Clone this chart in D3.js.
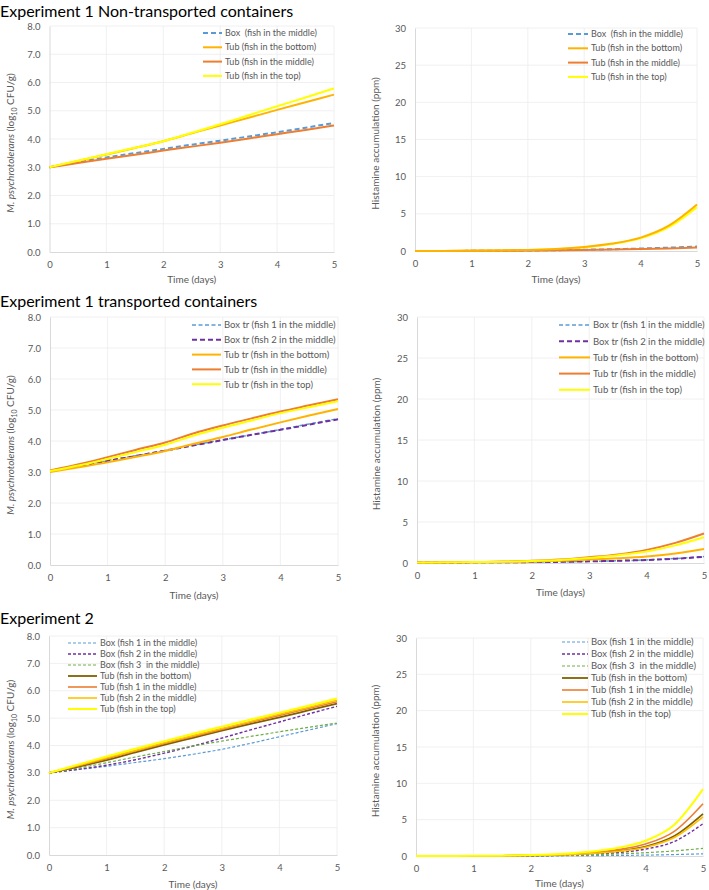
<!DOCTYPE html>
<html>
<head>
<meta charset="utf-8">
<script src="https://cdn.jsdelivr.net/npm/d3@7"></script>
<style>
  body { margin: 0; background: #fff; }
  svg text { font-family: Lato, "Liberation Sans", sans-serif; }
  .tick text { fill: #595959; font-size: 9.5px; }
  .axisTitle { fill: #595959; font-size: 10px; }
  .legendText { fill: #595959; }
</style>
</head>
<body>
<div class="chart"></div>
<script>
// time points (days)
var days = [0, 0.5, 1, 1.5, 2, 2.5, 3, 3.5, 4, 4.5, 5];

// Experiment 1 non-transported: growth (log10 CFU/g)
var e1Box      = [3.0, 3.18, 3.35, 3.50, 3.65, 3.80, 3.94, 4.09, 4.24, 4.40, 4.57];
var e1TubBot   = [3.0, 3.22, 3.45, 3.68, 3.92, 4.20, 4.48, 4.75, 5.03, 5.30, 5.57];
var e1TubMid   = [3.0, 3.15, 3.30, 3.44, 3.59, 3.73, 3.87, 4.02, 4.17, 4.32, 4.48];
var e1TubTop   = [3.0, 3.23, 3.46, 3.69, 3.92, 4.22, 4.52, 4.84, 5.16, 5.47, 5.79];
// Experiment 1 non-transported: histamine (ppm)
var e1BoxH     = [0, 0.01, 0.02, 0.04, 0.07, 0.11, 0.17, 0.24, 0.33, 0.45, 0.60];
var e1TubBotH  = [0, 0.01, 0.03, 0.07, 0.14, 0.28, 0.55, 1.00, 1.80, 3.40, 6.25];
var e1TubMidH  = [0, 0.01, 0.02, 0.03, 0.06, 0.09, 0.13, 0.19, 0.26, 0.35, 0.46];
var e1TubTopH  = [0, 0.01, 0.03, 0.07, 0.14, 0.27, 0.52, 0.95, 1.70, 3.20, 5.90];

// Experiment 1 transported: growth
var trBox1     = [3.02, 3.20, 3.37, 3.53, 3.69, 3.87, 4.04, 4.20, 4.37, 4.55, 4.72];
var trBox2     = [3.02, 3.19, 3.36, 3.52, 3.69, 3.86, 4.03, 4.20, 4.36, 4.53, 4.70];
var trTubBot   = [3.00, 3.15, 3.31, 3.49, 3.68, 3.91, 4.13, 4.37, 4.60, 4.82, 5.03];
var trTubMid   = [3.05, 3.25, 3.48, 3.72, 3.95, 4.25, 4.50, 4.73, 4.95, 5.15, 5.35];
var trTubTop   = [3.03, 3.21, 3.42, 3.65, 3.88, 4.18, 4.43, 4.66, 4.90, 5.09, 5.28];
// Experiment 1 transported: histamine
var trBox1H    = [0.05, 0.06, 0.08, 0.09, 0.11, 0.14, 0.20, 0.27, 0.38, 0.55, 0.78];
var trBox2H    = [0.05, 0.06, 0.08, 0.09, 0.11, 0.14, 0.20, 0.27, 0.37, 0.52, 0.75];
var trTubBotH  = [0.05, 0.07, 0.09, 0.12, 0.17, 0.27, 0.42, 0.58, 0.80, 1.15, 1.70];
var trTubMidH  = [0.06, 0.09, 0.12, 0.17, 0.26, 0.42, 0.70, 1.05, 1.60, 2.45, 3.60];
var trTubTopH  = [0.06, 0.08, 0.11, 0.15, 0.24, 0.38, 0.62, 0.95, 1.40, 2.15, 3.15];

// Experiment 2: growth
var e2Box1     = [3.0, 3.12, 3.24, 3.38, 3.52, 3.68, 3.86, 4.08, 4.32, 4.56, 4.80];
var e2Box2     = [3.0, 3.13, 3.28, 3.48, 3.72, 3.98, 4.27, 4.57, 4.86, 5.15, 5.43];
var e2Box3     = [3.0, 3.17, 3.37, 3.58, 3.78, 3.98, 4.16, 4.33, 4.50, 4.66, 4.82];
var e2TubBot   = [3.0, 3.22, 3.47, 3.75, 4.02, 4.28, 4.54, 4.79, 5.03, 5.28, 5.53];
var e2TubMid1  = [3.0, 3.25, 3.52, 3.80, 4.07, 4.33, 4.59, 4.85, 5.10, 5.35, 5.60];
var e2TubMid2  = [3.0, 3.27, 3.55, 3.82, 4.10, 4.36, 4.62, 4.88, 5.14, 5.39, 5.65];
var e2TubTop   = [3.0, 3.30, 3.60, 3.88, 4.16, 4.43, 4.69, 4.95, 5.20, 5.45, 5.72];
// Experiment 2: histamine
var e2Box1H    = [0, 0, 0.01, 0.01, 0.02, 0.03, 0.05, 0.08, 0.12, 0.20, 0.30];
var e2Box2H    = [0, 0, 0.01, 0.02, 0.04, 0.10, 0.22, 0.45, 0.95, 2.00, 4.45];
var e2Box3H    = [0, 0, 0.01, 0.02, 0.04, 0.09, 0.17, 0.28, 0.45, 0.70, 1.05];
var e2TubBotH  = [0, 0, 0.01, 0.03, 0.08, 0.16, 0.35, 0.67, 1.30, 2.75, 5.80];
var e2TubMid1H = [0, 0, 0.01, 0.03, 0.10, 0.20, 0.43, 0.85, 1.65, 3.40, 7.20];
var e2TubMid2H = [0, 0, 0.01, 0.03, 0.08, 0.15, 0.32, 0.62, 1.20, 2.55, 5.40];
var e2TubTopH  = [0, 0, 0.02, 0.05, 0.13, 0.28, 0.58, 1.10, 2.10, 4.30, 9.20];

// legend labels
var e1Labels = ["Box  (fish in the middle)", "Tub (fish in the bottom)", "Tub (fish in the middle)", "Tub (fish in the top)"];
var trLabels = ["Box tr (fish 1 in the middle)", "Box tr (fish 2 in the middle)", "Tub tr (fish in the bottom)", "Tub tr (fish in the middle)", "Tub tr (fish in the top)"];
var e2Labels = ["Box (fish 1 in the middle)", "Box (fish 2 in the middle)", "Box (fish 3  in the middle)", "Tub (fish in the bottom)", "Tub (fish 1 in the middle)", "Tub (fish 2 in the middle)", "Tub (fish in the top)"];

// axis ticks
var dayTicks = [0, 1, 2, 3, 4, 5];
var growthTicks = [0, 1, 2, 3, 4, 5, 6, 7, 8];
var histTicks = [0, 5, 10, 15, 20, 25, 30];

// series styles
var e1Styles = [
  {color: "#5B9BD5", dash: "5,3", w: 2},
  {color: "#FFB300", dash: null, w: 2},
  {color: "#ED7D31", dash: null, w: 2},
  {color: "#FFFF00", dash: null, w: 2}
];
var trStyles = [
  {color: "#5B9BD5", dash: "4,2.5", w: 1.5},
  {color: "#7030A0", dash: "5,3", w: 2},
  {color: "#FFB300", dash: null, w: 2},
  {color: "#ED7D31", dash: null, w: 2},
  {color: "#FFFF00", dash: null, w: 2}
];
var e2Styles = [
  {color: "#5B9BD5", dash: "3,2", w: 1.2},
  {color: "#7030A0", dash: "3,2", w: 1.4},
  {color: "#70AD47", dash: "3,2", w: 1.2},
  {color: "#7F6000", dash: null, w: 1.8},
  {color: "#ED7D31", dash: null, w: 1.6},
  {color: "#FFC000", dash: null, w: 1.6},
  {color: "#FFFF00", dash: null, w: 2}
];

var svgWidth = 709, svgHeight = 890;
var svg = d3.select(".chart").append("svg")
  .attr("width", svgWidth)
  .attr("height", svgHeight);

// section titles
var titles = [
  {text: "Experiment 1 Non-transported containers", y: 17},
  {text: "Experiment 1 transported containers", y: 307},
  {text: "Experiment 2", y: 624}
];
svg.selectAll(".sectionTitle").data(titles).enter().append("text")
  .attr("class", "sectionTitle")
  .attr("x", 0)
  .attr("y", d => d.y)
  .style("font-size", "16px")
  .style("fill", "#000")
  .text(d => d.text);

var panels = [
  {left: 49.5, right: 334, top: 26, bottom: 252, yMax: 8, ticks: growthTicks, growth: true,
   series: [e1Box, e1TubBot, e1TubMid, e1TubTop], labels: e1Labels, styles: e1Styles,
   order: [0, 1, 2, 3], leg: {x: 203, len: 19, y: 33, step: 14.3, fs: 9}, titleX: 10, xTitleY: 283},
  {left: 415, right: 697, top: 28, bottom: 251, yMax: 30, ticks: histTicks, growth: false,
   series: [e1BoxH, e1TubBotH, e1TubMidH, e1TubTopH], labels: e1Labels, styles: e1Styles,
   order: [3, 0, 2, 1], leg: {x: 568, len: 20, y: 34, step: 14.3, fs: 9}, titleX: 375, xTitleY: 283},
  {left: 50, right: 338, top: 317, bottom: 565, yMax: 8, ticks: growthTicks, growth: true,
   series: [trBox1, trBox2, trTubBot, trTubMid, trTubTop], labels: trLabels, styles: trStyles,
   order: [0, 1, 2, 3, 4], leg: {x: 192, len: 29, y: 325, step: 14.8, fs: 9.5}, titleX: 10, xTitleY: 599},
  {left: 417, right: 704, top: 317, bottom: 563, yMax: 30, ticks: histTicks, growth: false,
   series: [trBox1H, trBox2H, trTubBotH, trTubMidH, trTubTopH], labels: trLabels, styles: trStyles,
   order: [0, 1, 2, 3, 4], leg: {x: 559, len: 31, y: 325, step: 16.2, fs: 9.5}, titleX: 376, xTitleY: 596},
  {left: 49, right: 337, top: 636, bottom: 855, yMax: 8, ticks: growthTicks, growth: true,
   series: [e2Box1, e2Box2, e2Box3, e2TubBot, e2TubMid1, e2TubMid2, e2TubTop], labels: e2Labels, styles: e2Styles,
   order: [0, 1, 2, 3, 4, 5, 6], leg: {x: 68, len: 29, y: 643, step: 11, fs: 9}, titleX: 10, xTitleY: 888},
  {left: 416, right: 703, top: 638, bottom: 856, yMax: 30, ticks: histTicks, growth: false,
   series: [e2Box1H, e2Box2H, e2Box3H, e2TubBotH, e2TubMid1H, e2TubMid2H, e2TubTopH], labels: e2Labels, styles: e2Styles,
   order: [0, 1, 2, 3, 4, 5, 6], leg: {x: 562, len: 26, y: 642, step: 12, fs: 9.5}, titleX: 375, xTitleY: 887}
];

panels.forEach(function(p) {
  var x = d3.scaleLinear().domain([0, 5]).range([p.left, p.right]);
  var y = d3.scaleLinear().domain([0, p.yMax]).range([p.bottom, p.top]);
  var g = svg.append("g");

  // gridlines
  g.selectAll(".hgrid").data(p.ticks.slice(1)).enter().append("line")
    .attr("x1", p.left).attr("x2", p.right)
    .attr("y1", d => y(d)).attr("y2", d => y(d))
    .attr("stroke", "#ececec").attr("stroke-width", 0.8);
  g.selectAll(".vgrid").data(dayTicks.slice(1)).enter().append("line")
    .attr("x1", d => x(d)).attr("x2", d => x(d))
    .attr("y1", p.top).attr("y2", p.bottom)
    .attr("stroke", "#ececec").attr("stroke-width", 0.8);

  // axes
  var leftAxis = d3.axisLeft(y).tickValues(p.ticks).tickSize(0).tickPadding(9)
    .tickFormat(p.growth ? d3.format(".1f") : d3.format("d"));
  var bottomAxis = d3.axisBottom(x).tickValues(dayTicks).tickSize(0).tickPadding(9)
    .tickFormat(d3.format("d"));
  var ya = g.append("g").attr("transform", `translate(${p.left},0)`).call(leftAxis);
  var xa = g.append("g").attr("transform", `translate(0,${p.bottom})`).call(bottomAxis);
  [ya, xa].forEach(function(a) {
    a.select(".domain").attr("stroke", "#d9d9d9").attr("stroke-width", 1);
    a.selectAll("text").style("font-family", "Lato, sans-serif");
  });

  // axis titles
  g.append("text")
    .attr("class", "axisTitle")
    .attr("x", (p.left + p.right) / 2)
    .attr("y", p.xTitleY)
    .attr("text-anchor", "middle")
    .text("Time (days)");

  var yt = g.append("text")
    .attr("class", "axisTitle")
    .attr("transform", `translate(${p.titleX + 4},${(p.top + p.bottom) / 2 + 4}) rotate(-90)`)
    .attr("text-anchor", "middle");
  if (p.growth) {
    yt.append("tspan").style("font-style", "italic").text("M. psychrotolerans");
    yt.append("tspan").text(" (log");
    yt.append("tspan").attr("dy", 2.5).style("font-size", "7px").text("10");
    yt.append("tspan").attr("dy", -2.5).text(" CFU/g)");
  } else {
    yt.text("Histamine accumulation (ppm)");
  }

  // lines
  var line = d3.line()
    .x((d, i) => x(days[i]))
    .y(d => y(d))
    .curve(d3.curveMonotoneX);
  p.order.forEach(function(k) {
    var s = p.styles[k];
    g.append("path")
      .datum(p.series[k])
      .attr("d", line)
      .attr("fill", "none")
      .attr("stroke", s.color)
      .attr("stroke-width", s.w)
      .attr("stroke-dasharray", s.dash);
  });

  // legend
  var leg = g.append("g");
  p.labels.forEach(function(lbl, i) {
    var s = p.styles[i];
    var ly = p.leg.y + i * p.leg.step;
    leg.append("line")
      .attr("x1", p.leg.x).attr("x2", p.leg.x + p.leg.len)
      .attr("y1", ly).attr("y2", ly)
      .attr("stroke", s.color)
      .attr("stroke-width", s.w)
      .attr("stroke-dasharray", s.dash);
    leg.append("text")
      .attr("class", "legendText")
      .attr("x", p.leg.x + p.leg.len + 3)
      .attr("y", ly)
      .attr("dy", "0.35em")
      .style("font-size", p.leg.fs + "px")
      .style("white-space", "pre")
      .text(lbl);
  });
});
</script>
</body>
</html>
